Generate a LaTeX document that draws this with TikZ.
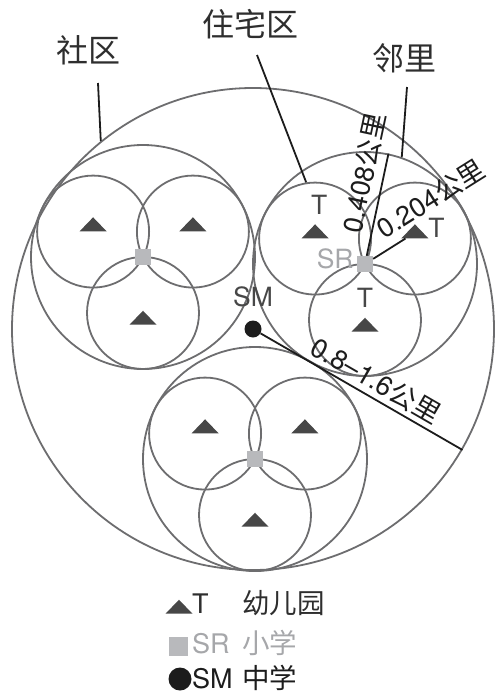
\documentclass[tikz,border=0pt]{standalone}
\usepackage{fontspec}
\setmainfont{TeX Gyre Heros}
\newfontfamily\cjk{Noto Sans CJK SC}
\usetikzlibrary{positioning, calc, shapes.geometric}
\definecolor{ringgray}{HTML}{6D6D6F}
\definecolor{markgray}{HTML}{474747}
\definecolor{srgray}{HTML}{B8B9BC}
\definecolor{srtext}{HTML}{A6A7AA}
\definecolor{inkblack}{HTML}{1C1C1C}
\definecolor{textgray}{HTML}{2E2E2E}

\tikzset{
  ring/.style={circle, draw=ringgray, line width=1.8pt, inner sep=0pt, minimum size=#1},
  kinder/.style={isosceles triangle, isosceles triangle stretches, shape border rotate=90,
    fill=markgray, inner sep=0pt, minimum width=27pt, minimum height=14pt},
  srbox/.style={rectangle, fill=srgray, inner sep=0pt, minimum size=#1},
  smdot/.style={circle, fill=inkblack, inner sep=0pt, minimum size=#1},
  leader/.style={draw=inkblack, line width=1.8pt},
  toplabel/.style={font=\cjk\fontsize{32}{36}\selectfont, text=textgray},
  marklabel/.style={font=\fontsize{26.5}{30}\selectfont, text=markgray, inner sep=0pt},
  dimlabel/.style={font=\fontsize{27}{30}\selectfont, text=inkblack,
    inner xsep=1pt, inner ysep=7pt, anchor=south},
  keytext/.style={font=\fontsize{27}{30}\selectfont, text=textgray, inner sep=0pt},
  keyname/.style={keytext, font=\cjk\fontsize{27.5}{30}\selectfont}
}

\begin{document}
\begin{tikzpicture}[x=1pt, y=1pt]
\useasboundingbox (0,0) rectangle (495,-696);

% the whole community
\node[ring=482pt] (city) at (253,-329) {};

% residential districts, three neighbourhoods each
\foreach \n/\x/\y in {l/143/-257, r/365/-264, b/255/-459} {
  \node[ring=224pt] (res-\n) at (\x,\y) {};
  \foreach \a/\dy [count=\i] in {153/6, 27/6, 270/-6} {
    \node[ring=112pt] (nb-\n\i) at ($(res-\n)+(\a:56)$) {};
    \node[kinder] (t-\n\i) at ($(nb-\n\i)+(0,\dy)$) {};
  }
  \node[srbox=16pt] (sr-\n) at (res-\n) {};
}

% middle school in the centre
\node[smdot=17pt] (sm) at (city) {};
\node[marklabel, above=13pt of sm] (sm-label) {SM};

% labels of the right district
\node[marklabel, above=9pt of t-r1, xshift=4pt] (t-r1-label) {T};
\node[marklabel, right=5pt of t-r2, yshift=5pt] (t-r2-label) {T};
\node[marklabel, above=10pt of t-r3] (t-r3-label) {T};
\node[marklabel, text=srtext, left=3pt of sr-r, yshift=5pt] (sr-r-label) {SR};

% radii
\draw[leader] (sr-r) -- (res-r.78)
  node[dimlabel, pos=0.77, sloped] {0.408{\cjk 公里}};
\draw[leader] (sr-r) -- (t-r2)
  node[dimlabel, pos=2.12, sloped] {0.204{\cjk 公里}};
\draw[leader] (sm) -- (city.-30)
  node[dimlabel, pos=0.53, sloped, inner ysep=4pt] {0.8–1.6{\cjk 公里}};

% titles
\node[toplabel] (shequ) at (88,-50) {社区};
\node[toplabel] (zhuzhai) at (250,-24) {住宅区};
\node[toplabel] (linli) at (404,-58) {邻里};
\coordinate (shequ-tip) at (98,-83);
\coordinate (zhuzhai-tip) at (257,-55);
\coordinate (linli-tip) at (407,-87);
\draw[leader] (shequ-tip) -- (city.129);
\draw[leader] (zhuzhai-tip) -- (nb-r1.99);
\draw[leader] (linli-tip) -- (res-r.71);

% legend
\node[kinder] (key-t) at (179,-608) {};
\node[keytext, anchor=base west] (key-t-code) at (192,-613) {T};
\node[keyname, anchor=base west] (key-t-name) at (242,-613) {幼儿园};
\node[srbox=19pt] (key-sr) at (178,-646) {};
\node[keytext, text=srtext, anchor=base west] (key-sr-code) at (192,-653) {SR};
\node[keyname, text=srtext, anchor=base west] (key-sr-name) at (242,-653) {小学};
\node[smdot=23pt] (key-sm) at (180,-679) {};
\node[keytext, text=inkblack, anchor=base west] (key-sm-code) at (192,-688) {SM};
\node[keyname, text=inkblack, anchor=base west] (key-sm-name) at (242,-688) {中学};
\end{tikzpicture}
\end{document}
